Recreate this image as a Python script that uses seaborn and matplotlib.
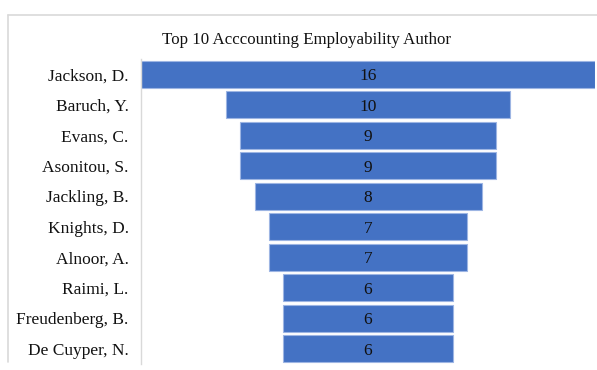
import matplotlib
matplotlib.use("Agg")
import matplotlib.pyplot as plt
import seaborn as sns
import pandas as pd
from matplotlib.lines import Line2D

authors = ["Jackson, D.", "Baruch, Y.", "Evans, C.", "Asonitou, S.", "Jackling, B.",
           "Knights, D.", "Alnoor, A.", "Raimi, L.", "Freudenberg, B.", "De Cuyper, N."]
counts = [16, 10, 9, 9, 8, 7, 7, 6, 6, 6]
title = "Top 10 Acccounting Employability Author"

sns.set_theme(style="white")
plt.rcParams['font.family'] = ['Liberation Serif', 'DejaVu Serif']

W, H = 597, 370
fig = plt.figure(figsize=(W / 100, H / 100), dpi=100)
ax = fig.add_axes([141 / W, 1 - 364 / H, (595 - 141) / W, (364 - 59) / H])

df = pd.DataFrame({"author": authors, "count": counts})
sns.barplot(data=df, x="count", y="author", orient="h", color="#4472C4",
            saturation=1, width=0.89, edgecolor="#9DB5E3", linewidth=0.8, ax=ax)

# center bars to form a funnel
for p in ax.patches:
    p.set_x(-p.get_width() / 2)

for i, c in enumerate(counts):
    ax.text(0, i, str(c), ha="center", va="center_baseline",
            fontsize=12.5, color="#111111")

ax.set_xlim(-8, 8)
ax.set_ylim(9.5, -0.5)
ax.set_xlabel("")
ax.set_ylabel("")
ax.set_xticks([])
ax.tick_params(axis="y", length=0, pad=9, labelsize=12.5, labelcolor="#111111")
for s in ["top", "right", "bottom"]:
    ax.spines[s].set_visible(False)
ax.spines["left"].set_color("#D9D9D9")
ax.spines["left"].set_linewidth(1.0)

# outer chart frame (top and left)
fig.add_artist(Line2D([8 / W, 1], [1 - 15 / H, 1 - 15 / H], color="#D9D9D9", lw=1.2))
fig.add_artist(Line2D([8 / W, 8 / W], [1 - 15 / H, 1 - 362 / H], color="#D9D9D9", lw=1.2))

fig.text(307 / W, 1 - 40 / H, title, ha="center", va="center", fontsize=12.2, color="#111111")

fig.savefig("out.png", dpi=100)
